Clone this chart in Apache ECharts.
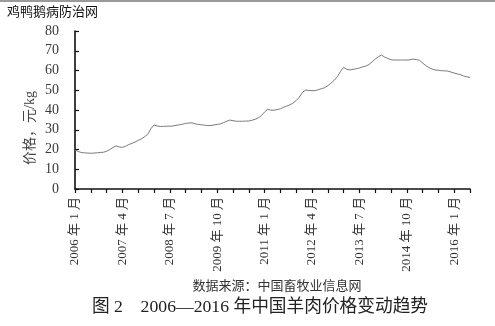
<!DOCTYPE html>
<html><head><meta charset="utf-8">
<script src="https://cdn.jsdelivr.net/npm/echarts@6/dist/echarts.min.js"></script>
<style>html,body{margin:0;padding:0;background:#fff}#c{width:495px;height:326px}</style>
</head><body><div id="c"></div>
<script>
// Monthly mutton price, yuan/kg, Jan 2006 – Jun 2016
const startYear = 2006, startMonth = 1, monthCount = 126;
const prices = [
19.8,19.0,18.5,18.3,18.2,18.1,18.2,18.3,18.5,18.6,19.1,20.0,
21.0,21.8,21.3,21.1,21.6,22.5,23.1,23.8,24.6,25.4,26.4,27.6,
30.5,32.4,31.9,31.7,31.7,31.8,31.8,31.9,32.2,32.5,32.8,33.2,
33.4,33.5,33.0,32.7,32.5,32.3,32.1,32.2,32.4,32.7,33.0,33.6,
34.3,34.9,34.6,34.3,34.3,34.3,34.4,34.4,34.8,35.3,36.0,37.2,
39.0,40.4,39.9,39.9,40.2,40.6,41.4,42.0,42.6,43.5,44.8,46.5,
49.0,50.1,49.9,49.8,49.8,50.3,50.8,51.3,52.3,53.6,55.0,56.8,
59.5,61.6,60.6,60.3,60.6,60.9,61.3,61.8,62.2,63.0,64.3,65.8,
67.0,67.8,66.8,66.1,65.4,65.3,65.3,65.3,65.3,65.3,65.4,65.8,
65.5,65.2,63.8,62.5,61.5,60.7,60.3,60.1,59.9,59.8,59.7,59.2,
58.7,58.3,57.9,57.2,56.8,56.5
];
const yTicks = [0,10,20,30,40,50,60,70,80];
const sourceText = '数据来源：中国畜牧业信息网';
const captionText = '图 2　2006—2016 年中国羊肉价格变动趋势';
const watermark = '鸡鸭鹅病防治网';
const yName = '价格，元/kg';

const months = [];
for (let i = 0; i < monthCount; i++) {
  const t = (startMonth - 1) + i;
  months.push((startYear + Math.floor(t / 12)) + ' 年 ' + (t % 12 + 1) + ' 月');
}

const serif = "'Liberation Serif','DejaVu Serif','Noto Sans CJK SC',serif";
const chart = echarts.init(document.getElementById('c'), null, {renderer: 'canvas'});
chart.setOption({
  animation: false,
  backgroundColor: '#fff',
  grid: {left: 75, right: 25, top: 31, bottom: 137, containLabel: false},
  xAxis: {
    type: 'category', data: months, boundaryGap: false,
    axisLine: {lineStyle: {color: '#111', width: 1.6}},
    axisTick: {interval: 4, length: 4, inside: false, lineStyle: {color: '#111', width: 1.2}},
    axisLabel: {interval: 14, rotate: 90, margin: 8, color: '#333', fontSize: 13, fontFamily: serif}
  },
  yAxis: {
    type: 'value', min: yTicks[0], max: yTicks[yTicks.length - 1], interval: 10,
    splitLine: {show: false},
    axisLine: {show: true, lineStyle: {color: '#111', width: 1.6}},
    axisTick: {show: true, inside: true, length: 4, lineStyle: {color: '#111', width: 1.2}},
    axisLabel: {margin: 16, color: '#3a3a3a', fontSize: 14, fontFamily: serif}
  },
  series: [{
    type: 'line', data: prices, showSymbol: false, smooth: false,
    lineStyle: {color: '#7a7a7a', width: 1}
  }],
  graphic: [
    {type: 'rect', left: 0, top: 0, shape: {width: 495, height: 2}, style: {fill: '#9a9a9a'}},
    {type: 'text', left: 7, top: 5, style: {text: watermark, font: "13px 'Noto Sans CJK SC'", fill: '#111'}},
    {type: 'text', x: 30, y: 128, rotation: Math.PI / 2,
     style: {text: yName, font: "14px " + serif, fill: '#444', align: 'center', verticalAlign: 'middle'}},
    {type: 'text', x: 277, y: 285,
     style: {text: sourceText, font: "13px 'Noto Sans CJK SC'", fill: '#333', align: 'center', verticalAlign: 'middle'}},
    {type: 'text', x: 260, y: 307,
     style: {text: captionText, font: "17.7px " + serif, fill: '#222', align: 'center', verticalAlign: 'middle'}}
  ]
});
</script></body></html>
